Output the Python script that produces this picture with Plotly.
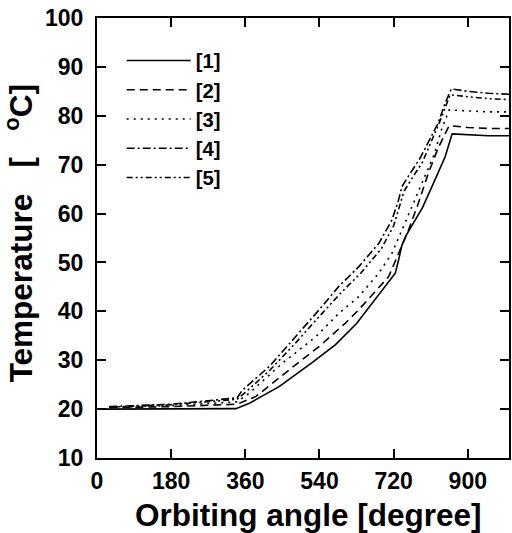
import plotly.graph_objects as go

# Series data
names = ["[1]", "[2]", "[3]", "[4]", "[5]"]

x1 = [0, 180, 337, 370, 442, 522, 579, 630, 680, 710, 724, 732, 740, 750, 772, 790, 813, 845, 862, 900, 950, 1000]
y1 = [20, 20, 20.1, 21.2, 24.6, 29.5, 33.2, 37.5, 43.0, 46.2, 47.8, 50.5, 53.5, 55.5, 58.7, 61.2, 65.5, 71.6, 76.3, 76.1, 75.9, 75.9]

x2 = [30, 180, 340, 386, 466, 539, 603, 635, 708, 732, 756, 780, 804, 828, 855, 900, 950, 1000]
y2 = [20.3, 20.5, 21.0, 22.6, 28.0, 32.8, 37.6, 40.3, 47.1, 51.9, 56.6, 62.1, 68.2, 73.4, 78.0, 77.6, 77.4, 77.4]

x3 = [30, 180, 340, 370, 450, 531, 587, 635, 684, 716, 740, 764, 793, 818, 837, 855, 900, 950, 1000]
y3 = [20.4, 20.7, 21.5, 23.3, 29.4, 34.8, 39.6, 43.0, 47.8, 51.9, 56.6, 61.4, 66.9, 72.0, 77.4, 81.2, 81.0, 80.8, 80.8]

x4 = [30, 180, 340, 353, 418, 482, 539, 587, 635, 684, 716, 732, 740, 760, 784, 828, 845, 860, 900, 950, 1000]
y4 = [20.5, 21.0, 22.3, 23.9, 28.7, 34.8, 40.3, 45.1, 49.1, 53.9, 58.7, 62.8, 65.5, 68.2, 71.3, 78.5, 82.6, 85.5, 85.0, 84.6, 84.4]

x5 = [30, 180, 340, 360, 420, 485, 540, 590, 640, 690, 720, 735, 745, 765, 790, 837, 857, 900, 950, 1000]
y5 = [20.4, 20.9, 22.0, 23.4, 28.0, 33.8, 39.0, 43.6, 47.8, 52.8, 57.5, 61.5, 64.5, 67.3, 70.5, 79.8, 84.3, 83.9, 83.5, 83.3]

xticks = [0, 180, 360, 540, 720, 900]
yticks = [10, 20, 30, 40, 50, 60, 70, 80, 90, 100]

xs = [x1, x2, x3, x4, x5]
ys = [y1, y2, y3, y4, y5]
dashes = ["solid", "8px,5px", "2px,5px", "8px,3px,2px,3px", "6px,3px,2px,3px,2px,3px"]

FONT = "Liberation Sans, Arial, sans-serif"

fig = go.Figure()
for n, x, y, d in zip(names, xs, ys, dashes):
    fig.add_trace(go.Scatter(x=x, y=y, mode="lines", name=n,
                             line=dict(color="black", width=1.6, dash=d)))

fig.update_layout(
    width=512, height=533,
    margin=dict(l=97, r=1, t=18, b=75),
    paper_bgcolor="white", plot_bgcolor="white",
    font=dict(family=FONT, color="black"),
    showlegend=True,
    legend=dict(x=0.060, y=0.948, xanchor="left", yanchor="top",
                bgcolor="rgba(0,0,0,0)", itemwidth=64, tracegroupgap=0,
                font=dict(size=20.2, family=FONT, weight="bold")),
)

fig.update_xaxes(range=[0, 1000], tickvals=xticks, ticktext=[str(v) for v in xticks],
                 showline=True, linecolor="black", linewidth=2, mirror="allticks",
                 ticks="inside", ticklen=9, tickwidth=2, tickcolor="black",
                 showgrid=False, zeroline=False, ticklabelstandoff=1,
                 ticklabeloverflow="allow",
                 tickfont=dict(size=23, family=FONT, weight="bold"))
fig.update_yaxes(range=[10, 100], tickvals=yticks, ticktext=[str(v) for v in yticks],
                 showline=True, linecolor="black", linewidth=2, mirror="allticks",
                 ticks="inside", ticklen=9, tickwidth=2, tickcolor="black",
                 showgrid=False, zeroline=False, ticklabelstandoff=7,
                 ticklabeloverflow="allow",
                 tickfont=dict(size=23, family=FONT, weight="bold"))

fig.add_annotation(text="Orbiting angle [degree]", xref="paper", yref="paper",
                   x=0.5145, y=-0.1295, xanchor="center", yanchor="middle", showarrow=False,
                   font=dict(size=31.5, family=FONT, weight="bold"))
fig.add_annotation(text="Temperature\u00a0\u00a0\u00a0[\u00a0\u00a0\u00a0<sup>o</sup>C]", xref="paper", yref="paper",
                   x=-0.19, y=0.51, xanchor="center", yanchor="middle", showarrow=False,
                   textangle=-90, font=dict(size=31.5, family=FONT, weight="bold"))

fig.write_html("out.html", config={"displayModeBar": False},
               post_script="document.body.style.margin='0px';")
